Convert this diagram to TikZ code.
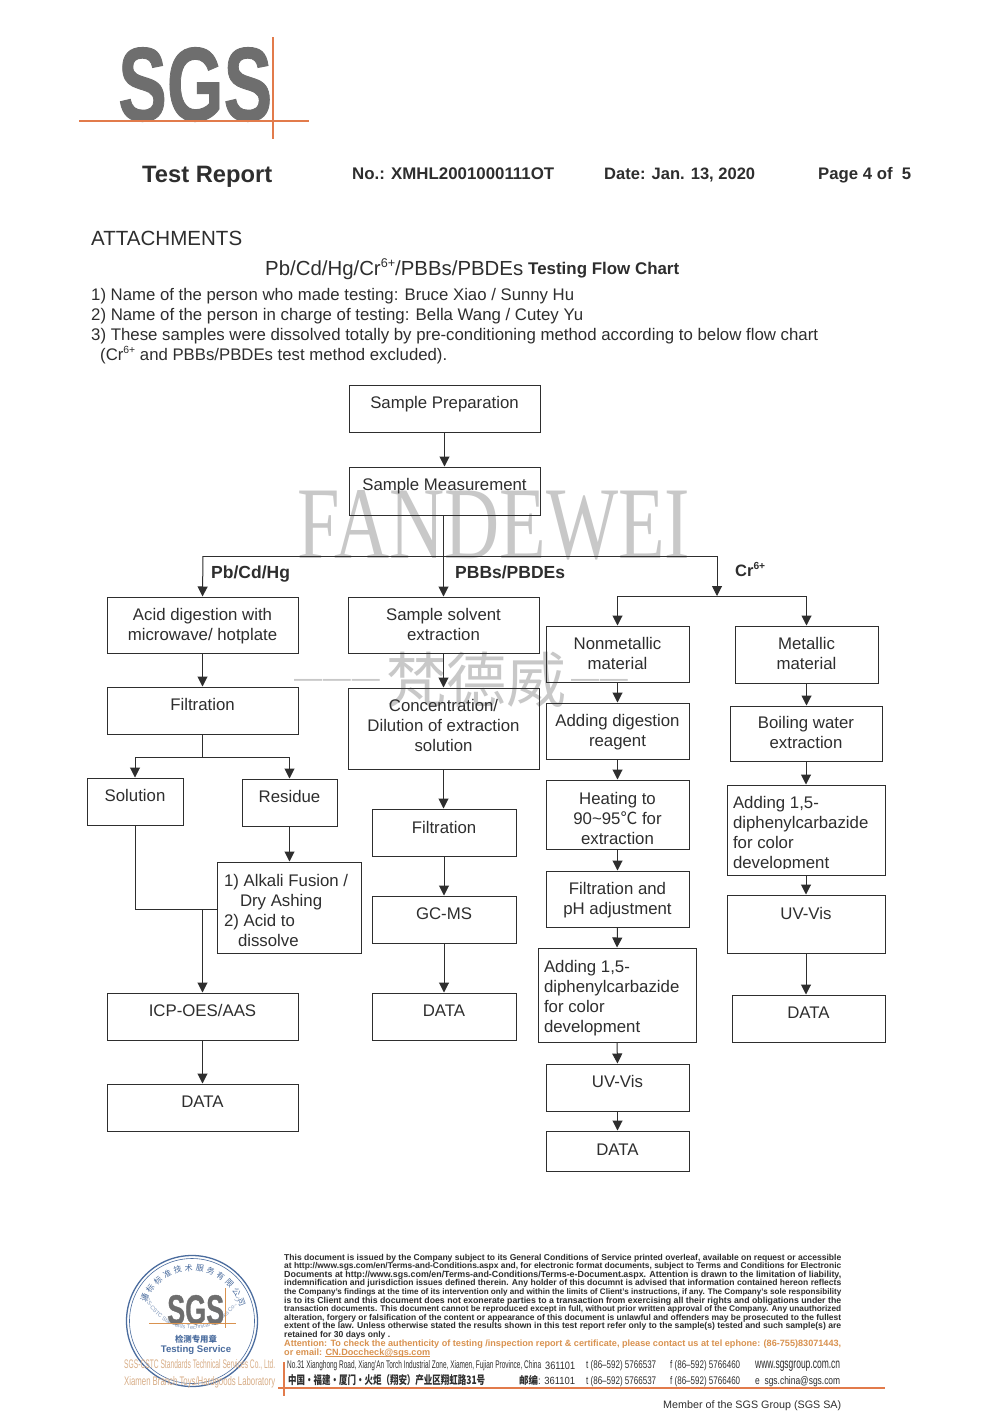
\documentclass[tikz,border=0pt]{standalone}
\usepackage{fontspec}
\usepackage{graphicx}
\setmainfont{Liberation Sans}
\newfontfamily\cjk{Noto Sans CJK SC}
\newfontfamily\wmserif{Liberation Serif}
\newfontfamily\sgsfont[BoldFeatures={FakeBold=1.0}]{Liberation Sans}
\usetikzlibrary{arrows.meta,decorations.text}
\definecolor{sgsorange}{HTML}{E27B4B}
\definecolor{sgsgray}{HTML}{6E6E6E}
\definecolor{wmgray}{HTML}{C8C8C8}
\definecolor{stampblue}{HTML}{4A6C9E}
\definecolor{attn}{HTML}{D9924F}
\definecolor{paleorange}{HTML}{D8AE88}
\definecolor{ink}{HTML}{2E2E2E}
\tikzset{
  flowbox/.style={draw=ink,line width=1pt,fill=none,inner sep=0pt,text=ink},
  arr/.style={draw=ink,line width=1pt,-{Triangle[length=10pt,width=10pt]}},
  ln/.style={draw=ink,line width=1pt},
  orangeline/.style={draw=sgsorange,line width=1.1pt},
  tx/.style={inner sep=0pt,anchor=base west,text=ink},
}
\newcommand{\supp}[1]{\raisebox{.38em}{\scalebox{.62}{#1}}}
% box by corners, with the vertical centre of its text given
\newcommand{\bx}[7][@{}c@{}]{%
  \pgfmathsetmacro\cxx{(#3+#5)/2}\pgfmathsetmacro\cyy{(#4+#6)/2}%
  \pgfmathsetmacro\www{#5-#3}\pgfmathsetmacro\hhh{#6-#4}%
  \pgfmathsetmacro\rss{\cyy-#7-7}%
  \node[flowbox,minimum width=\www pt,minimum height=\hhh pt] (#2) at (\cxx,\cyy)
    {\raisebox{\rss pt}[0pt][0pt]{\fontsize{16.8}{20}\selectfont\begin{tabular}{#1}\boxbody\end{tabular}}};}
\newcommand{\boxbody}{}
% text stretched to a given width
\newcommand{\tw}[6]{\node[tx] (#1) at (#2,#3) {\resizebox{#4pt}{!}{#5#6}};}
% text stretched to a given width and height
\newcommand{\sq}[6]{\node[tx] (#1) at (#2,#3) {\resizebox{#4pt}{#5pt}{#6}};}
% footer legal line
\newcommand{\fl}[4]{\node[tx] (#1) at (284,#2) {\resizebox{#3pt}{!}{\fontsize{8}{8}\selectfont\bfseries #4}};}
\begin{document}
\begin{tikzpicture}[x=1pt,y=-1pt]
\useasboundingbox (0,0) rectangle (1000,1414);
\fill[white] (0,0) rectangle (1000,1414);

% watermarks
\sq{wm1}{297}{558}{393}{68}{\color{wmgray}\wmserif FANDEWEI}
\node[inner sep=0pt,anchor=center,text=wmgray] (wm2) at (461,680)
  {\raisebox{15pt}{\fontsize{28}{28}\selectfont —\kern1pt—\kern1pt—}\kern6pt\fontsize{60}{60}\selectfont\cjk 梵德威\kern5pt\raisebox{15pt}{\fontsize{28}{28}\selectfont\rmfamily —\kern1pt—}};

% logo
\sq{logo}{118}{120.5}{154}{73}{\color{sgsgray}\sgsfont\bfseries SGS}
\coordinate (lh1) at (79,121);\coordinate (lh2) at (309,121);
\coordinate (lv1) at (273,37);\coordinate (lv2) at (273,139);
\draw[orangeline] (lh1) -- (lh2);
\draw[orangeline] (lv1) -- (lv2);

% header
\tw{h1}{142}{182}{130}{\fontsize{24}{24}\selectfont\bfseries}{Test Report}
\tw{h2}{352}{179}{202}{\fontsize{17}{17}\selectfont\bfseries}{No.: XMHL2001000111OT}
\tw{h3}{604}{179}{151}{\fontsize{17}{17}\selectfont\bfseries}{Date: Jan. 13, 2020}
\tw{h4}{818}{179}{93}{\fontsize{17}{17}\selectfont\bfseries}{Page 4 of\ \ 5}

\tw{att}{91}{245}{151}{\fontsize{20}{20}\selectfont}{ATTACHMENTS}
\tw{ti1}{265}{275}{258}{\fontsize{18.5}{18.5}\selectfont}{Pb/Cd/Hg/Cr\supp{6+}/PBBs/PBDEs}
\tw{ti2}{528}{274}{151}{\fontsize{16}{16}\selectfont\bfseries}{Testing Flow Chart}
\tw{n1}{91}{300}{483}{\fontsize{16.5}{16.5}\selectfont}{1) Name of the person who made testing: Bruce Xiao / Sunny Hu}
\tw{n2}{91}{320}{492}{\fontsize{16.5}{16.5}\selectfont}{2) Name of the person in charge of testing: Bella Wang / Cutey Yu}
\tw{n3}{91}{340}{727}{\fontsize{16.5}{16.5}\selectfont}{3) These samples were dissolved totally by pre-conditioning method according to below flow chart}
\tw{n4}{100}{360}{347}{\fontsize{16.5}{16.5}\selectfont}{(Cr\supp{6+} and PBBs/PBDEs test method excluded).}

% flow boxes
\renewcommand{\boxbody}{Sample Preparation}\bx{sp}{349}{385}{540}{432}{402}
\renewcommand{\boxbody}{Sample Measurement}\bx{sm}{349}{467}{540}{515}{484}
\renewcommand{\boxbody}{Acid digestion with\\microwave/ hotplate}\bx{acid}{107}{597}{298}{653}{624}
\renewcommand{\boxbody}{Filtration}\bx{fa}{107}{687}{298}{734}{704}
\renewcommand{\boxbody}{Solution}\bx{sol}{87}{778}{183}{825}{795}
\renewcommand{\boxbody}{Residue}\bx{res}{242}{779}{337}{826}{796}
\renewcommand{\boxbody}{1) Alkali Fusion /\\\hspace*{16pt}Dry Ashing\\2) Acid to\\\hspace*{14pt}dissolve}\bx[@{}p{130pt}@{}]{alk}{217}{862}{361}{953}{910}
\renewcommand{\boxbody}{ICP-OES/AAS}\bx{icp}{107}{993}{298}{1040}{1010}
\renewcommand{\boxbody}{DATA}\bx{da}{107}{1084}{298}{1131}{1101}

\renewcommand{\boxbody}{Sample solvent\\extraction}\bx{sse}{348}{597}{539}{653}{624}
\renewcommand{\boxbody}{Concentration/\\Dilution of extraction\\solution}\bx{con}{348}{688}{539}{769}{725}
\renewcommand{\boxbody}{Filtration}\bx{fb}{372}{809}{516}{856}{827}
\renewcommand{\boxbody}{GC-MS}\bx{gc}{372}{896}{516}{943}{913}
\renewcommand{\boxbody}{DATA}\bx{db}{372}{993}{516}{1040}{1010}

\renewcommand{\boxbody}{Nonmetallic\\material}\bx{nm}{546}{626}{689}{682}{653}
\renewcommand{\boxbody}{Adding digestion\\reagent}\bx{adr}{546}{703}{689}{759}{730}
\renewcommand{\boxbody}{Heating to\\90\textasciitilde 95{\cjk ℃} for\\extraction}\bx{heat}{546}{780}{689}{849}{818}
\renewcommand{\boxbody}{Filtration and\\pH adjustment}\bx{fph}{546}{871}{689}{927}{898}
\renewcommand{\boxbody}{Adding 1,5-\\diphenylcarbazide\\for color\\development}\bx[@{}p{146pt}@{}]{add1}{538}{948}{696}{1042}{996}
\renewcommand{\boxbody}{UV-Vis}\bx{uv1}{546}{1064}{689}{1111}{1081}
\renewcommand{\boxbody}{DATA}\bx{dc}{546}{1131}{689}{1171}{1149}

\renewcommand{\boxbody}{Metallic\\material}\bx{met}{735}{626}{878}{683}{653}
\renewcommand{\boxbody}{Boiling water\\extraction}\bx{boil}{730}{706}{882}{761}{732}
\renewcommand{\boxbody}{Adding 1,5-\\diphenylcarbazide\\for color\\development}\bx[@{}p{146pt}@{}]{add2}{727}{785}{885}{875}{832}
\fill[white] (729,868.5) rectangle (883,874);
\renewcommand{\boxbody}{UV-Vis}\bx{uv2}{727}{895}{885}{953}{913}
\renewcommand{\boxbody}{DATA}\bx{dd}{732}{995}{885}{1042}{1012}

% branch labels
\node[tx] (lpb) at (211,578) {\fontsize{17.5}{17.5}\selectfont\bfseries Pb/Cd/Hg};
\node[tx] (lpbb) at (455,578) {\fontsize{17.5}{17.5}\selectfont\bfseries PBBs/PBDEs};
\node[tx] (lcr) at (735,576) {\fontsize{16.5}{16.5}\selectfont\bfseries Cr\supp{6+}};

% junctions
\coordinate (barL) at (203,556);
\coordinate (barR) at (717,556);
\coordinate (crT) at (717,596);
\coordinate (crL) at (617.5,596);
\coordinate (crR) at (806.5,596);
\coordinate (filtJ) at (202.5,757);
\coordinate (solJ) at (135,757);
\coordinate (resJ) at (289.5,757);
\coordinate (mergeA) at (135,909);
\coordinate (mergeB) at (202.5,909);

% connectors
\draw[arr] (sp.south) -- (sm.north);
\draw[arr] (sm.south -| sse.north) -- (sse.north);
\draw[ln] (barL) -- (barR);
\draw[arr] (barL) -- (acid.north);
\draw[arr] (barR) -- (crT);
\draw[ln] (crL) -- (crR);
\draw[arr] (crL) -- (nm.north);
\draw[arr] (crR) -- (met.north);
\draw[arr] (acid.south) -- (fa.north);
\draw[ln] (fa.south) -- (filtJ);
\draw[ln] (solJ) -- (resJ);
\draw[arr] (solJ) -- (sol.north);
\draw[arr] (resJ) -- (res.north);
\draw[arr] (res.south) -- (res.south |- alk.north);
\draw[ln] (sol.south) -- (mergeA) -- (mergeB) -- (mergeB -| alk.west);
\draw[arr] (mergeB) -- (icp.north);
\draw[arr] (icp.south) -- (da.north);
\draw[arr] (sse.south) -- (con.north);
\draw[arr] (con.south) -- (con.south |- fb.north);
\draw[arr] (fb.south) -- (gc.north);
\draw[arr] (gc.south) -- (db.north);
\draw[arr] (nm.south) -- (adr.north);
\draw[arr] (adr.south) -- (heat.north);
\draw[arr] (heat.south) -- (fph.north);
\draw[arr] (fph.south) -- (add1.north);
\draw[arr] (add1.south) -- (uv1.north);
\draw[arr] (uv1.south) -- (dc.north);
\draw[arr] (met.south) -- (met.south |- boil.north);
\draw[arr] (boil.south) -- (boil.south |- add2.north);
\draw[arr] (add2.south) -- (uv2.north);
\draw[arr] (uv2.south) -- (uv2.south |- dd.north);

% stamp
\coordinate (stampC) at (192,1321);
\draw[stampblue,line width=1.3pt] (stampC) circle (65.5);
\draw[stampblue,line width=.6pt] (stampC) circle (62.5);
\foreach \ch [count=\i from 0] in {通,标,标,准,技,术,服,务,有,限,公,司}{
  \pgfmathsetmacro\ang{154-\i*12.1}
  \pgfmathsetmacro\px{192+53*cos(\ang)}
  \pgfmathsetmacro\py{1321-53*sin(\ang)}
  \pgfmathsetmacro\rot{\ang-90}
  \node[inner sep=0pt,rotate=\rot,text=stampblue] (ring\i) at (\px,\py) {\fontsize{8}{8}\selectfont\cjk \ch};
}
\path[decorate,decoration={text along path,text align=center,
  text={|\fontsize{5.6}{5.6}\selectfont\color{stampblue!70}|SGS-CSTC Standards Technical Services Co., Ltd}}]
  (192,1321) ++(205:52) arc[start angle=155,end angle=25,radius=52];
\sq{slogo}{167}{1324}{57}{29}{\color{sgsgray}\sgsfont\bfseries SGS}
\coordinate (sh1) at (149,1323);\coordinate (sh2) at (236,1323);
\coordinate (sv1) at (225,1288);\coordinate (sv2) at (225,1328);
\draw[draw=attn,line width=.8pt] (sh1) -- (sh2);
\draw[draw=attn,line width=.8pt] (sv1) -- (sv2);
\node[inner sep=0pt,text=stampblue] (stampcn) at (196,1339) {\fontsize{8.4}{8.4}\selectfont\cjk\bfseries 检测专用章};
\node[inner sep=0pt,text=stampblue] (stampts) at (196,1350) {\fontsize{9.6}{9.6}\selectfont\bfseries Testing Service};
\sq{lab1}{124}{1368}{151}{9}{\color{paleorange}SGS-CSTC Standards Technical Services Co., Ltd.}
\sq{lab2}{124}{1385}{151}{9}{\color{paleorange}Xiamen Branch Toys/Hardgoods Laboratory}

% legal text
\fl{f1}{1260}{557}{This document is issued by the Company subject to its General Conditions of Service printed overleaf, available on request or accessible}
\fl{f2}{1268.6}{557}{at http://www.sgs.com/en/Terms-and-Conditions.aspx and, for electronic format documents, subject to Terms and Conditions for Electronic}
\fl{f3}{1277.2}{557}{Documents at http://www.sgs.com/en/Terms-and-Conditions/Terms-e-Document.aspx. Attention is drawn to the limitation of liability,}
\fl{f4}{1285.8}{557}{indemnification and jurisdiction issues defined therein. Any holder of this documnt is advised that information contained hereon reflects}
\fl{f5}{1294.4}{557}{the Company's findings at the time of its intervention only and within the limits of Client's instructions, if any. The Company's sole responsibility}
\fl{f6}{1303}{557}{is to its Client and this document does not exonerate parties to a transaction from exercising all their rights and obligations under the}
\fl{f7}{1311.6}{557}{transaction documents. This document cannot be reproduced except in full, without prior written approval of the Company. Any unauthorized}
\fl{f8}{1320.2}{557}{alteration, forgery or falsification of the content or appearance of this document is unlawful and offenders may be prosecuted to the fullest}
\fl{f9}{1328.8}{557}{extent of the law. Unless otherwise stated the results shown in this test report refer only to the sample(s) tested and such sample(s) are}
\fl{f10}{1337.4}{106}{retained for 30 days only .}
\fl{f11}{1346.6}{557}{\color{attn}Attention: To check the authenticity of testing /inspection report \& certificate, please contact us at tel ephone: (86-755)83071443,}
\fl{f12}{1355}{146}{\color{attn}or email: CN.Doccheck@sgs.com}
\coordinate (ul1) at (325,1356.2);\coordinate (ul2) at (430,1356.2);
\draw[draw=attn,line width=.5pt] (ul1) -- (ul2);

% address lines
\sq{a1}{287}{1368}{254}{8}{No.31 Xianghong Road, Xiang'An Torch Industrial Zone, Xiamen, Fujian Province, China}
\sq{a2}{545}{1369}{30}{7.5}{361101}
\sq{a3}{586}{1368}{70}{8}{t (86–592) 5766537}
\sq{a4}{670}{1368}{70}{8}{f (86–592) 5766460}
\sq{a5}{755}{1368}{85}{7.5}{www.sgsgroup.com.cn}
\sq{b1}{288}{1384}{197}{10}{\cjk\bfseries 中国・福建・厦门・火炬（翔安）产业区翔虹路31号}
\sq{b2}{519}{1384}{56}{9}{{\cjk\bfseries 邮编}: 361101}
\sq{b3}{586}{1384}{70}{8}{t (86–592) 5766537}
\sq{b4}{670}{1384}{70}{8}{f (86–592) 5766460}
\sq{b5}{755}{1384}{85}{8}{e\ \ sgs.china@sgs.com}
\coordinate (fh1) at (278,1388);\coordinate (fh2) at (885,1388);
\coordinate (fv1) at (284,1362);\coordinate (fv2) at (284,1396);
\draw[orangeline] (fh1) -- (fh2);
\draw[orangeline] (fv1) -- (fv2);
\tw{mem}{663}{1408}{178}{\fontsize{11.5}{11.5}\selectfont}{Member of the SGS Group (SGS SA)}
\end{tikzpicture}
\end{document}
